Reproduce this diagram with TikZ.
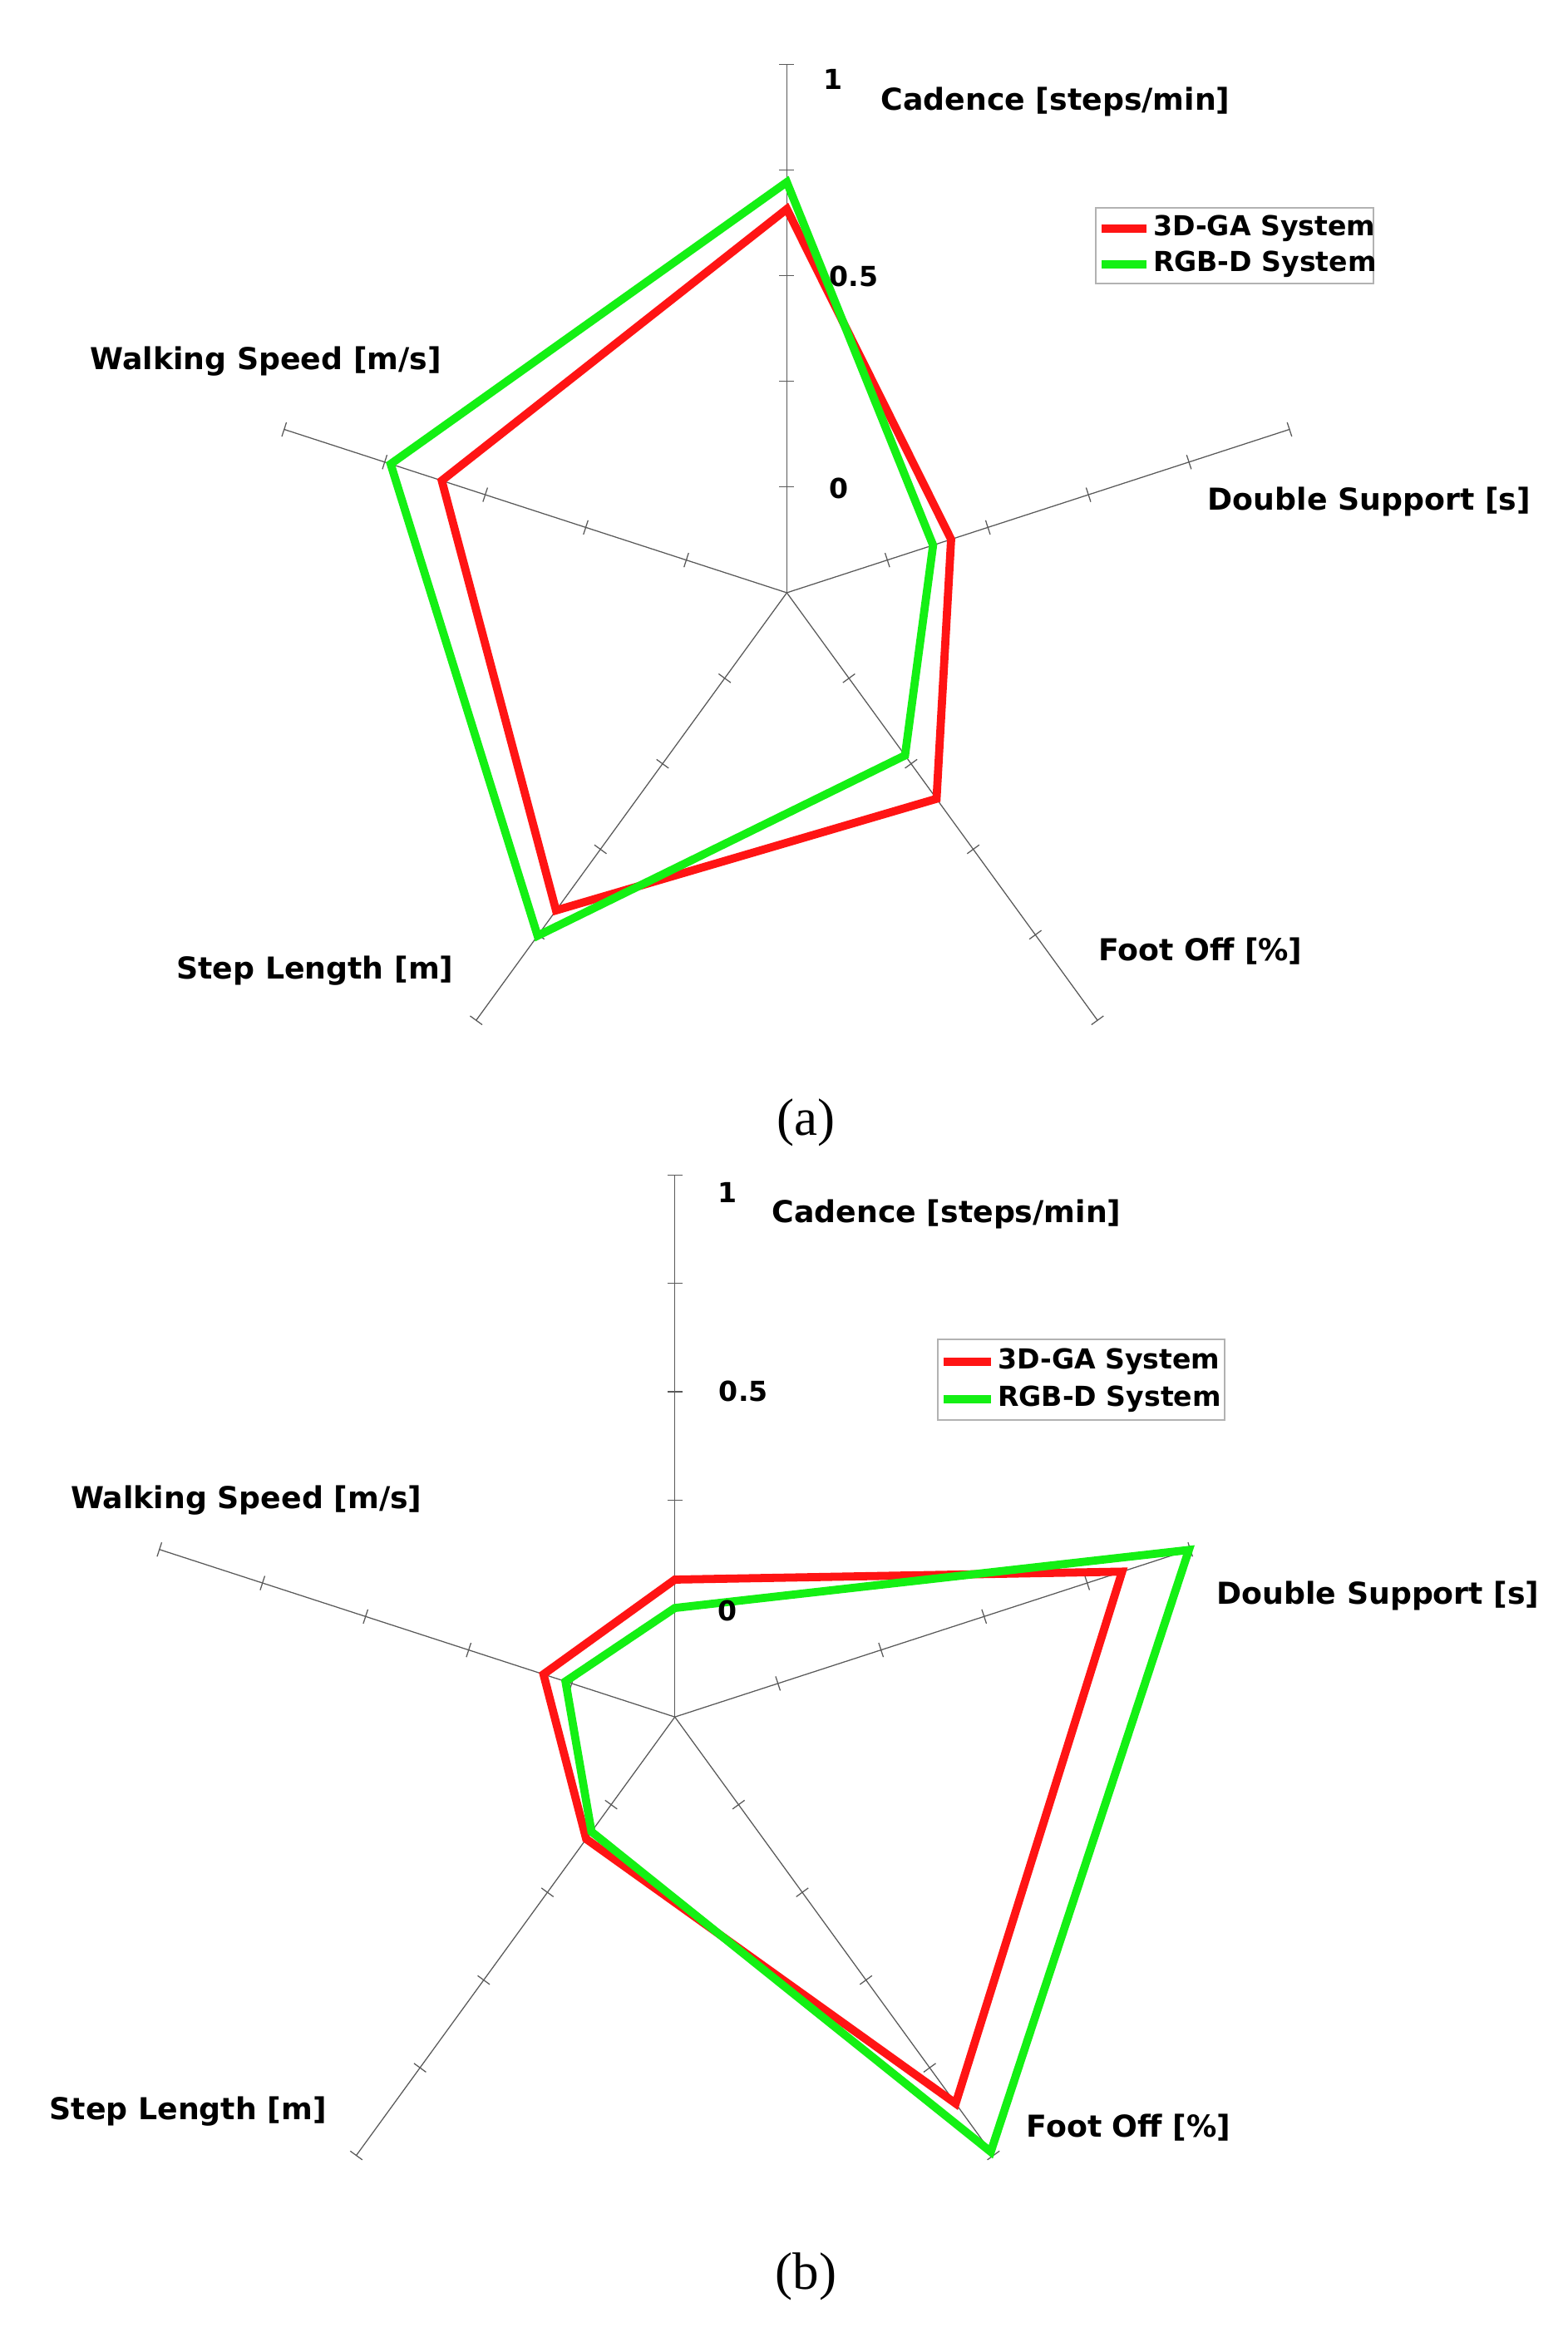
\documentclass[tikz,border=0pt]{standalone}
\usepackage{fontspec}
\setmainfont{Liberation Serif}
\newfontfamily\lab{DejaVu Sans}
\definecolor{myred}{RGB}{255,20,20}
\definecolor{mygreen}{RGB}{20,240,20}
\begin{document}
\begin{tikzpicture}[x=0.02cm,y=0.02cm,
  axis/.style={gray!70!black,line width=0.4pt},
  poly/.style={line width=3.1pt,line join=miter},
  lbl/.style={font=\lab\bfseries\fontsize{11.5}{13}\selectfont,inner sep=0pt},
  num/.style={font=\lab\bfseries\fontsize{10.5}{12}\selectfont,inner sep=0pt},
  subcap/.style={font=\fontsize{20}{24}\selectfont,inner sep=0pt},
  legbox/.style={draw=gray!60,fill=white,line width=0.6pt}]
\useasboundingbox (0,0) rectangle (1050,-1572);
% ---------- chart (a)
\begin{scope}[shift={(527,-397)}]
\def\R{354}
\foreach \a in {90,18,-54,-126,162}{
  \draw[axis] (0,0) -- (\a:\R);
  \foreach \k in {1,...,5}{\draw[axis] (\a:\k*\R/5) ++(\a+90:5) -- ++(\a-90:10);}
}
\coordinate (ar1) at (90:257); \coordinate (ar2) at (18:115.7); \coordinate (ar3) at (-54:170.6);
\coordinate (ar4) at (-126:263); \coordinate (ar5) at (162:243);
\coordinate (ag1) at (90:275); \coordinate (ag2) at (18:103); \coordinate (ag3) at (-54:134.7);
\coordinate (ag4) at (-126:284); \coordinate (ag5) at (162:279);
\draw[poly,myred] (ar1)--(ar2)--(ar3)--(ar4)--(ar5)--cycle;
\draw[poly,mygreen] (ag1)--(ag2)--(ag3)--(ag4)--(ag5)--cycle;
\end{scope}
\node[num] (a1) at (558,-53) {1};
\node[num] (a05) at (572,-185) {0.5};
\node[num] (a0) at (562,-327) {0};
\node[lbl] (ac) at (707,-68) {Cadence [steps/min]};
\node[lbl] (ads) at (917,-336) {Double Support [s]};
\node[lbl] (afo) at (804,-637) {Foot Off [\%]};
\node[lbl] (asl) at (211,-650) {Step Length [m]};
\node[lbl] (aws) at (178,-242) {Walking Speed [m/s]};
\draw[legbox] (734,-139) rectangle (920,-190);
\draw[poly,myred] (738,-153) -- (768,-153);
\draw[poly,mygreen] (738,-177) -- (768,-177);
\node[num,anchor=west] (al1) at (772,-153) {3D-GA System};
\node[num,anchor=west] (al2) at (772,-177) {RGB-D System};
\node[subcap] (capa) at (540,-752) {(a)};
% ---------- chart (b)
\begin{scope}[shift={(452,-1150)}]
\def\R{363}
\foreach \a in {90,18,-54,-126,162}{
  \draw[axis] (0,0) -- (\a:\R);
  \foreach \k in {1,...,5}{\draw[axis] (\a:\k*\R/5) ++(\a+90:5) -- ++(\a-90:10);}
}
\coordinate (br1) at (90:92); \coordinate (br2) at (18:315); \coordinate (br3) at (-54:320);
\coordinate (br4) at (-126:101); \coordinate (br5) at (162:92.5);
\coordinate (bg1) at (90:73); \coordinate (bg2) at (18:362); \coordinate (bg3) at (-54:360);
\coordinate (bg4) at (-126:95); \coordinate (bg5) at (162:77);
\draw[poly,myred] (br1)--(br2)--(br3)--(br4)--(br5)--cycle;
\draw[poly,mygreen] (bg1)--(bg2)--(bg3)--(bg4)--(bg5)--cycle;
\end{scope}
\node[num] (b1) at (487,-799) {1};
\node[num] (b05) at (498,-932) {0.5};
\node[num] (b0) at (487,-1079) {0};
\node[lbl] (bc) at (634,-813) {Cadence [steps/min]};
\node[lbl] (bds) at (923,-1069) {Double Support [s]};
\node[lbl] (bfo) at (756,-1425) {Foot Off [\%]};
\node[lbl] (bsl) at (126,-1414) {Step Length [m]};
\node[lbl] (bws) at (165,-1005) {Walking Speed [m/s]};
\draw[legbox] (628,-897) rectangle (820,-951);
\draw[poly,myred] (632,-912) -- (664,-912);
\draw[poly,mygreen] (632,-937) -- (664,-937);
\node[num,anchor=west] (bl1) at (668,-912) {3D-GA System};
\node[num,anchor=west] (bl2) at (668,-937) {RGB-D System};
\node[subcap] (capb) at (540,-1525) {(b)};
\end{tikzpicture}
\end{document}
